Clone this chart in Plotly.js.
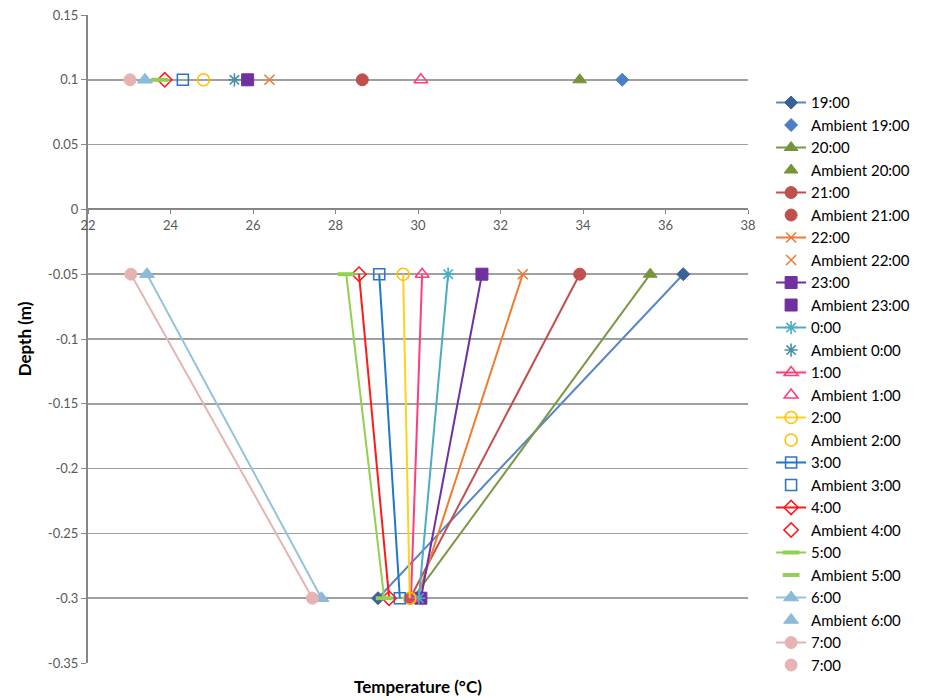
<!DOCTYPE html>
<html>
<head>
<meta charset="utf-8">
<script src="https://cdn.plot.ly/plotly-3.0.1.min.js"></script>
<style>html,body{margin:0;padding:0;background:#fff;}#chart{width:927px;height:700px;}</style>
</head>
<body>
<div id="chart"></div>
<script>
// ---- data ----
const times = ['19:00','20:00','21:00','22:00','23:00','0:00','1:00','2:00','3:00','4:00','5:00','6:00','7:00'];
const ambientNames = ['Ambient 19:00','Ambient 20:00','Ambient 21:00','Ambient 22:00','Ambient 23:00','Ambient 0:00','Ambient 1:00','Ambient 2:00','Ambient 3:00','Ambient 4:00','Ambient 5:00','Ambient 6:00','7:00'];
const ambientDepth = 0.1;
const profileDepths = [-0.05, -0.3];
const ambientT = [34.95, 33.92, 28.65, 26.40, 25.87, 25.55, 30.07, 24.80, 24.30, 23.86, 23.74, 23.38, 23.02];
const shallowT = [36.43, 35.63, 33.92, 32.54, 31.55, 30.73, 30.10, 29.64, 29.06, 28.57, 28.26, 23.43, 23.04];
const deepT    = [29.03, 29.88, 29.81, 29.98, 30.07, 30.02, 29.83, 29.80, 29.56, 29.30, 29.18, 27.66, 27.44];
const yTickVals = [0.15, 0.1, 0.05, 0, -0.05, -0.1, -0.15, -0.2, -0.25, -0.3, -0.35];
const yTickText = ['0.15','0.1','0.05','0','-0.05','-0.1','-0.15','-0.2','-0.25','-0.3','-0.35'];
const xTickVals = [22, 24, 26, 28, 30, 32, 34, 36, 38];

// ---- styles ----
const lineColors   = ['#5A87C2','#7C9848','#C0504D','#EE7B30','#7030A0','#4BACC6','#FF3D7A','#FFD21F','#1F78C8','#FF1A1A','#92D050','#93C4DC','#E6B3B3'];
const markerColors = ['#3A6198','#77933C','#C0504D','#EE7B30','#7030A0','#4BACC6','#FF3D7A','#FFC000','#2F75C4','#FF1A1A','#92D050','#8CBAD9','#E6B3B3'];
const ambColors    = ['#4A7EC6','#77933C','#C0504D','#EE7B30','#7030A0','#4A90A8','#FF3D7A','#FFC000','#2F75C4','#FF1A1A','#92D050','#8CBAD9','#E6B3B3'];
const symbols = ['diamond','triangle-up','circle','x-thin-open','square','asterisk-open','triangle-up-open','circle-open','square-open','diamond-open','line-ew-open','triangle-up','circle'];
const sizes   = [10, 12, 12, 10, 12, 11, 12, 12, 11, 11, 12, 13, 12];
const lineW   = [1, 1, 1, 1.6, 1, 1.6, 1.6, 1.6, 1.6, 1.6, 4, 1, 1];

const traces = [];
for (let i = 0; i < times.length; i++) {
  traces.push({
    type: 'scatter', mode: 'lines+markers', name: times[i],
    x: [shallowT[i], deepT[i]], y: profileDepths,
    line: {color: lineColors[i], width: 2},
    marker: {symbol: symbols[i], size: sizes[i], color: markerColors[i],
             line: {color: markerColors[i], width: lineW[i]}}
  });
  traces.push({
    type: 'scatter', mode: 'markers', name: ambientNames[i],
    x: [ambientT[i]], y: [ambientDepth],
    marker: {symbol: symbols[i], size: sizes[i], color: ambColors[i],
             line: {color: ambColors[i], width: lineW[i]}}
  });
}

const font = 'Lato, "Open Sans", "Liberation Sans", sans-serif';
const layout = {
  width: 927, height: 700,
  margin: {l: 88, r: 177, t: 15, b: 37},
  paper_bgcolor: '#ffffff', plot_bgcolor: '#ffffff',
  font: {family: font, size: 13, color: '#595959'},
  showlegend: true,
  legend: {x: 1.035, y: 0.89, xanchor: 'left', yanchor: 'top',
           font: {family: font, size: 15, color: '#000'}, itemwidth: 30,
           tracegroupgap: 0, bgcolor: 'rgba(0,0,0,0)'},
  xaxis: {range: [22, 38], tickmode: 'array', tickvals: xTickVals,
          anchor: 'free', position: 0.7, showline: true, linecolor: '#868686', linewidth: 2,
          showgrid: false, zeroline: false, ticks: 'outside', ticklen: 4, tickcolor: '#868686',
          tickfont: {family: font, size: 13, color: '#595959'}},
  yaxis: {range: [-0.35, 0.15], tickmode: 'array', tickvals: yTickVals, ticktext: yTickText,
          showline: true, linecolor: '#868686', linewidth: 2,
          showgrid: true, gridcolor: '#A0A0A0', gridwidth: 1.5, zeroline: false,
          ticks: 'outside', ticklen: 5, tickcolor: '#868686',
          tickfont: {family: font, size: 13, color: '#595959'},
          title: {text: 'Depth (m)', font: {family: font, size: 17, color: '#000', weight: 'bold'}, standoff: 12}},
  annotations: [{text: '<b>Temperature (°C)</b>', xref: 'paper', yref: 'paper', x: 0.5, y: 0,
                 yshift: -23, showarrow: false, yanchor: 'middle',
                 font: {family: font, size: 17, color: '#000'}}]
};

Plotly.newPlot('chart', traces, layout, {displayModeBar: false, staticPlot: true});
</script>
</body>
</html>
